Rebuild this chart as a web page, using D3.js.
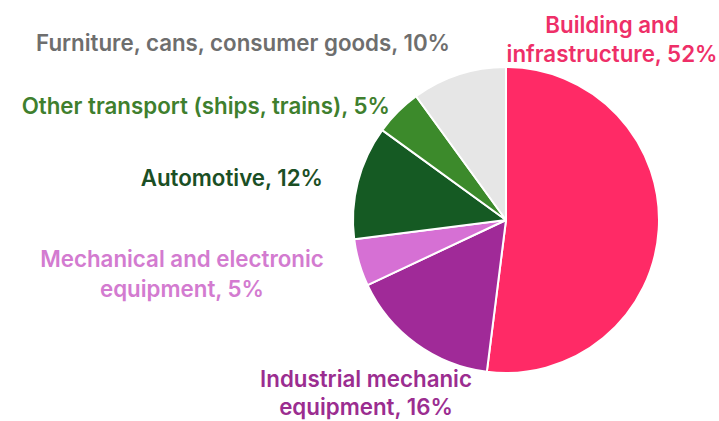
<!DOCTYPE html>
<html>
<head>
<meta charset="utf-8">
<script src="https://cdn.jsdelivr.net/npm/d3@7"></script>
<style>
  html, body { margin: 0; padding: 0; background: #ffffff; }
  svg { display: block; }
  text { font-family: Inter, "Open Sans", sans-serif; font-weight: 600; }
</style>
</head>
<body>
<svg id="chart" width="719" height="421"></svg>
<script>
// Steel end-use shares (percent), clockwise from 12 o'clock
const categories = [
  "Building and infrastructure",
  "Industrial mechanic equipment",
  "Mechanical and electronic equipment",
  "Automotive",
  "Other transport (ships, trains)",
  "Furniture, cans, consumer goods"
];
const shares = [52, 16, 5, 12, 5, 10];
const labelLines = [
  ["Building and", "infrastructure, 52%"],
  ["Industrial mechanic", "equipment, 16%"],
  ["Mechanical and electronic", "equipment, 5%"],
  ["Automotive, 12%"],
  ["Other transport (ships, trains), 5%"],
  ["Furniture, cans, consumer goods, 10%"]
];

const sliceColors = ["#ff2a66", "#a02a98", "#d670d4", "#155a23", "#3c8a2b", "#e6e6e6"];
const textColors  = ["#ee2f68", "#9b2d90", "#d37bd0", "#1b4f25", "#3f7f2e", "#6e6e6e"];

// label anchors: [x, first baseline y, text-anchor, line gap]
const labelLayout = [
  [612, 33, "middle", 29],
  [366, 387, "middle", 28],
  [182, 267, "middle", 30],
  [323, 186, "end", 0],
  [390, 114, "end", 0],
  [450, 51, "end", 0]
];

const svg = d3.select("#chart");
const cx = 506, cy = 220, radius = 153;

const pie = d3.pie().sort(null).value(d => d.v);
const arc = d3.arc().innerRadius(0).outerRadius(radius);
const data = categories.map((c, i) => ({ name: c, v: shares[i], i }));

const g = svg.append("g").attr("transform", `translate(${cx},${cy})`);
g.selectAll("path")
  .data(pie(data))
  .join("path")
  .attr("d", arc)
  .attr("fill", d => sliceColors[d.data.i])
  .attr("stroke", "#ffffff")
  .attr("stroke-width", 2)
  .attr("stroke-linejoin", "round");

const labels = svg.append("g");
data.forEach(d => {
  const [x, y, anchor, gap] = labelLayout[d.i];
  const t = labels.append("text")
    .attr("x", x).attr("y", y)
    .attr("text-anchor", anchor)
    .attr("fill", textColors[d.i])
    .attr("font-size", 22.3);
  labelLines[d.i].forEach((line, k) => {
    t.append("tspan").attr("x", x).attr("dy", k === 0 ? 0 : gap).text(line);
  });
});
</script>
</body>
</html>
